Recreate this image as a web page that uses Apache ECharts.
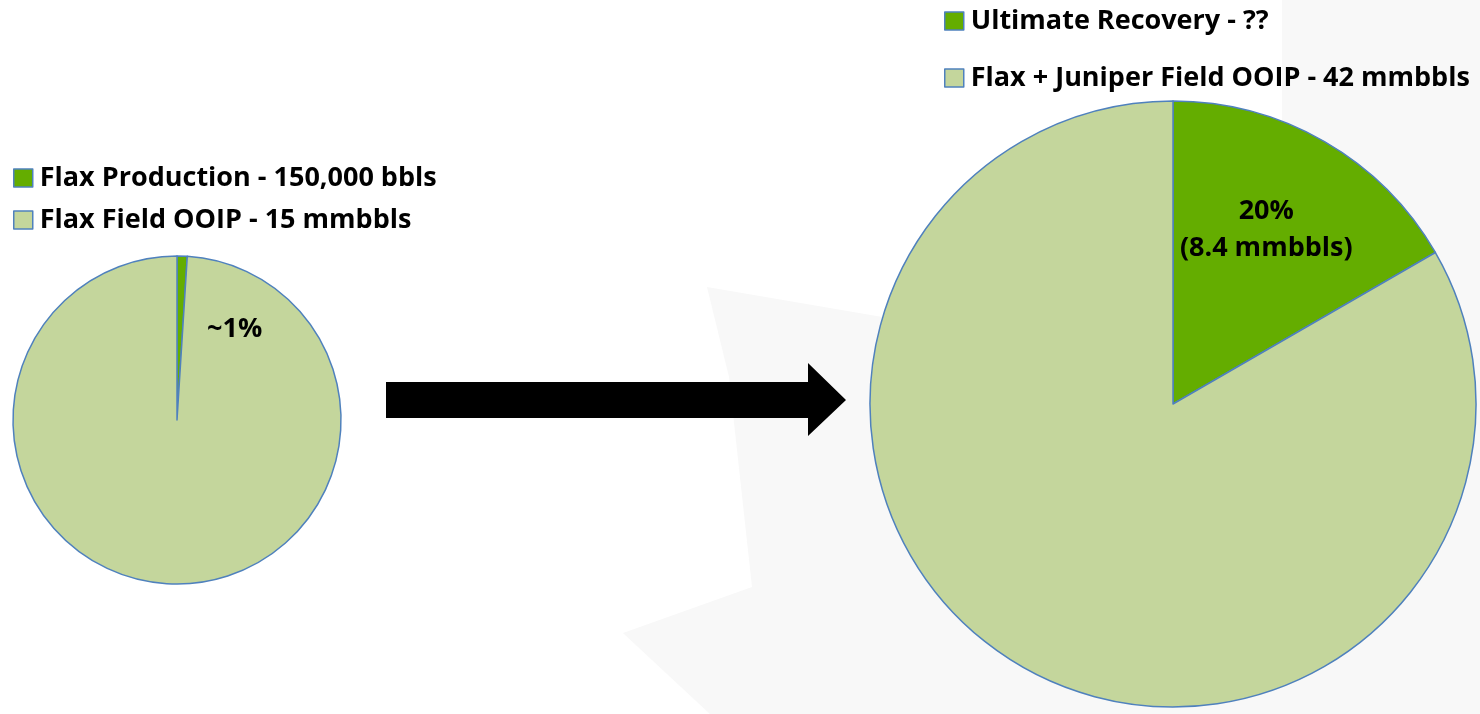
<!DOCTYPE html>
<html>
<head>
<meta charset="utf-8">
<script src="https://cdn.jsdelivr.net/npm/echarts@6/dist/echarts.min.js"></script>
<style>html,body{margin:0;padding:0;background:#fff}#c{width:1480px;height:714px}</style>
</head>
<body>
<div id="c"></div>
<script>
// ---- data ----
var leftNames = ['Flax Production - 150,000 bbls', 'Flax Field OOIP - 15 mmbbls'];
var leftValues = [1, 99];
var leftLabels = ['~1%', ''];
var rightNames = ['Ultimate Recovery - ??', 'Flax + Juniper Field OOIP - 42 mmbbls'];
var rightValues = [7, 35];
var rightLabels = ['20%\n(8.4 mmbbls)', ''];
var sliceColors = ['#64AD00', '#C4D69C'];

var FONT = 'Open Sans';
var chart = echarts.init(document.getElementById('c'), null, {renderer: 'canvas'});

function mk(names, values, labels) {
  return names.map(function (n, i) {
    return {name: n, value: values[i], itemStyle: {color: sliceColors[i]},
      label: {show: !!labels[i], formatter: labels[i]}};
  });
}

var option = {
  backgroundColor: '#ffffff',
  animation: false,
  graphic: [
    {type: 'polygon', z: -10, silent: true,
      shape: {points: [[707,287],[900,320],[1282,130],[1282,0],[1480,0],[1480,714],[710,714],[623,633],[752,587],[729,377]]},
      style: {fill: '#f8f8f8'}},
    {type: 'polygon', z: 5, silent: true,
      shape: {points: [[386,382],[808,382],[808,363],[846,400],[808,436],[808,418],[386,418]]},
      style: {fill: '#000000'}}
  ],
  legend: [
    {data: leftNames, left: 13, top: 164, orient: 'vertical', icon: 'rect', padding: 0,
      itemWidth: 19, itemHeight: 18, itemGap: 14,
      itemStyle: {borderColor: '#4F81BD', borderWidth: 1.5},
      textStyle: {fontFamily: FONT, fontWeight: 'bold', fontSize: 27, color: '#000', lineHeight: 28, padding: [0,0,0,2]}},
    {data: rightNames, left: 944, top: 7, orient: 'vertical', icon: 'rect', padding: 0,
      itemWidth: 19, itemHeight: 18, itemGap: 29,
      itemStyle: {borderColor: '#4F81BD', borderWidth: 1.5},
      textStyle: {fontFamily: FONT, fontWeight: 'bold', fontSize: 27, color: '#000', lineHeight: 28, padding: [0,0,0,2]}}
  ],
  series: [
    {type: 'pie', center: [177, 420], radius: [0, 164], startAngle: 90, clockwise: true,
      itemStyle: {borderColor: '#4F81BD', borderWidth: 1.5},
      label: {position: 'inside', color: '#000', fontFamily: FONT, fontWeight: 'bold', fontSize: 27},
      labelLayout: function (p) { return p.dataIndex === 0 ? {dx: 55, dy: -6} : {}; },
      labelLine: {show: false}, emphasis: {disabled: true},
      data: mk(leftNames, leftValues, leftLabels)},
    {type: 'pie', center: [1173, 404], radius: [0, 303], startAngle: 90, clockwise: true,
      itemStyle: {borderColor: '#4F81BD', borderWidth: 1.5},
      label: {position: 'inside', color: '#000', fontFamily: FONT, fontWeight: 'bold', fontSize: 27, lineHeight: 37, align: 'center'},
      labelLayout: function (p) { return p.dataIndex === 0 ? {dx: 16, dy: -40} : {}; },
      labelLine: {show: false}, emphasis: {disabled: true},
      data: mk(rightNames, rightValues, rightLabels)}
  ]
};
chart.setOption(option);
</script>
</body>
</html>
